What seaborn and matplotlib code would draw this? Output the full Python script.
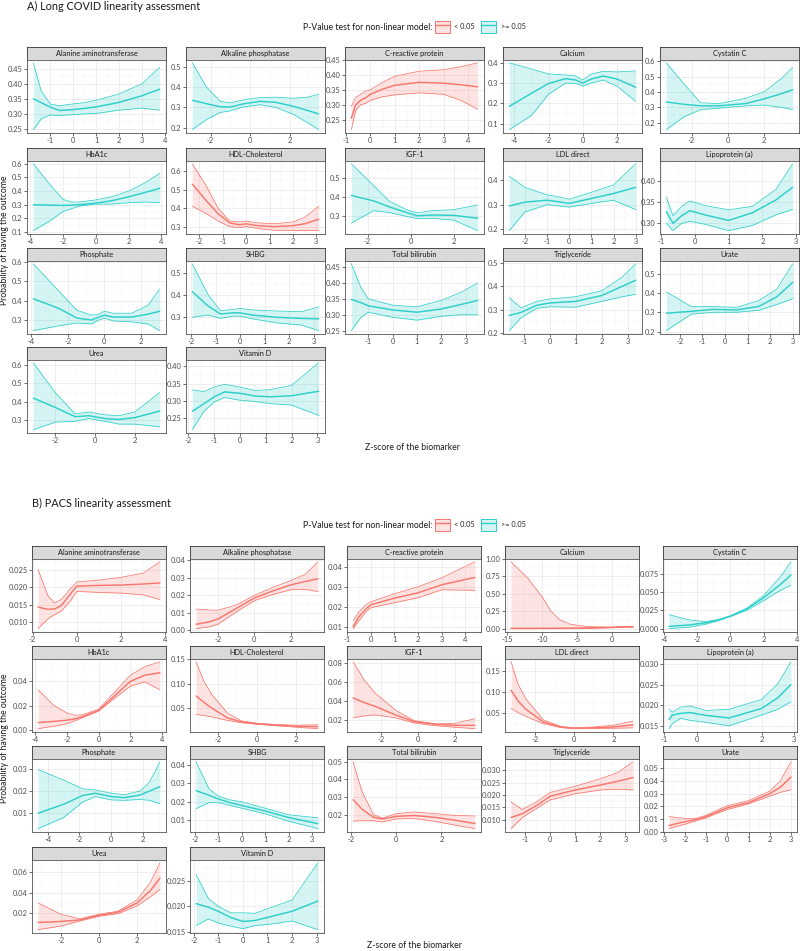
import matplotlib
matplotlib.use('Agg')
import matplotlib.pyplot as plt
import seaborn as sns
from matplotlib.colors import to_rgba
from matplotlib.ticker import AutoMinorLocator
from matplotlib.patches import Patch
from matplotlib.lines import Line2D
from matplotlib.legend_handler import HandlerTuple

# ---------------- A) Long COVID ----------------
a_names = ['Alanine aminotransferase', 'Alkaline phosphatase', 'C-reactive protein', 'Calcium', 'Cystatin C',
           'HbA1c', 'HDL-Cholesterol', 'IGF-1', 'LDL direct', 'Lipoprotein (a)',
           'Phosphate', 'SHBG', 'Total bilirubin', 'Triglyceride', 'Urate',
           'Urea', 'Vitamin D']
a_sig = [False, False, True, False, False,
         False, True, False, False, False,
         False, False, False, False, False,
         False, False]
a_x = [
    [-1.75, -1.4, -1.0, -0.6, 0.0, 0.5, 1.0, 2.0, 3.0, 3.78],
    [-2.92, -2.2, -1.5, -1.0, -0.3, 0.5, 1.3, 2.2, 2.9, 3.47],
    [-0.78, -0.6, -0.4, -0.2, 0.0, 0.5, 1.0, 2.0, 3.0, 3.7, 4.4],
    [-4.3, -3.0, -2.0, -1.0, -0.4, 0.0, 0.5, 1.2, 2.0, 3.1],
    [-3.4, -2.4, -1.5, -0.5, 0.0, 1.0, 2.0, 3.0, 3.6],
    [-3.8, -2.8, -2.0, -1.5, -1.0, 0.0, 1.0, 2.0, 3.0, 3.9],
    [-2.3, -1.7, -1.2, -0.7, -0.3, 0.0, 0.5, 1.2, 2.0, 2.5, 3.1],
    [-2.75, -1.7, -1.0, -0.2, 0.3, 1.0, 2.0, 3.1],
    [-2.7, -2.0, -1.0, -0.5, 0.0, 1.0, 2.0, 3.0],
    [-0.85, -0.65, -0.4, -0.15, 0.3, 1.0, 1.7, 2.4, 2.9],
    [-3.9, -2.5, -1.5, -0.7, -0.3, 0.0, 0.5, 1.5, 2.4, 3.05],
    [-1.95, -1.3, -0.8, -0.3, 0.0, 0.5, 1.5, 2.5, 3.2],
    [-1.7, -1.3, -1.0, 0.0, 1.0, 2.0, 2.8, 3.5],
    [-1.55, -1.1, -0.5, 0.0, 1.0, 2.0, 2.8, 3.3],
    [-2.6, -1.5, -0.5, 0.5, 1.5, 2.3, 3.0],
    [-3.1, -2.0, -1.0, -0.3, 0.5, 1.2, 2.0, 3.25],
    [-1.85, -1.4, -1.0, -0.6, 0.0, 0.6, 1.2, 2.0, 3.05],
]
a_fit = [
    [0.350, 0.337, 0.322, 0.311, 0.314, 0.318, 0.323, 0.338, 0.360, 0.382],
    [0.335, 0.318, 0.303, 0.302, 0.318, 0.330, 0.325, 0.305, 0.285, 0.268],
    [0.255, 0.300, 0.315, 0.323, 0.335, 0.352, 0.365, 0.375, 0.372, 0.367, 0.360],
    [0.185, 0.250, 0.298, 0.322, 0.315, 0.300, 0.320, 0.335, 0.320, 0.280],
    [0.335, 0.320, 0.310, 0.310, 0.315, 0.325, 0.355, 0.390, 0.415],
    [0.300, 0.297, 0.295, 0.297, 0.300, 0.312, 0.330, 0.358, 0.390, 0.420],
    [0.530, 0.440, 0.370, 0.320, 0.310, 0.315, 0.305, 0.300, 0.305, 0.315, 0.340],
    [0.410, 0.380, 0.350, 0.320, 0.303, 0.307, 0.305, 0.290],
    [0.295, 0.310, 0.318, 0.312, 0.305, 0.325, 0.345, 0.370],
    [0.328, 0.300, 0.318, 0.330, 0.320, 0.307, 0.325, 0.355, 0.385],
    [0.410, 0.360, 0.310, 0.300, 0.315, 0.325, 0.315, 0.315, 0.330, 0.345],
    [0.415, 0.350, 0.315, 0.320, 0.320, 0.310, 0.300, 0.295, 0.293],
    [0.348, 0.338, 0.328, 0.315, 0.308, 0.318, 0.332, 0.345],
    [0.275, 0.288, 0.318, 0.328, 0.335, 0.360, 0.400, 0.425],
    [0.295, 0.305, 0.315, 0.312, 0.330, 0.380, 0.455],
    [0.420, 0.370, 0.320, 0.325, 0.310, 0.305, 0.315, 0.350],
    [0.270, 0.292, 0.312, 0.326, 0.322, 0.314, 0.312, 0.315, 0.328],
]
a_hi = [
    [0.470, 0.375, 0.332, 0.327, 0.333, 0.337, 0.345, 0.366, 0.400, 0.455],
    [0.520, 0.400, 0.330, 0.322, 0.338, 0.348, 0.350, 0.345, 0.350, 0.365],
    [0.295, 0.325, 0.335, 0.345, 0.350, 0.375, 0.395, 0.412, 0.417, 0.427, 0.440],
    [0.400, 0.370, 0.345, 0.340, 0.335, 0.315, 0.345, 0.358, 0.355, 0.360],
    [0.590, 0.450, 0.330, 0.325, 0.335, 0.360, 0.400, 0.490, 0.560],
    [0.600, 0.450, 0.340, 0.320, 0.320, 0.335, 0.360, 0.400, 0.460, 0.530],
    [0.640, 0.520, 0.400, 0.330, 0.325, 0.330, 0.320, 0.315, 0.325, 0.350, 0.410],
    [0.575, 0.460, 0.380, 0.335, 0.318, 0.330, 0.335, 0.360],
    [0.415, 0.370, 0.340, 0.332, 0.322, 0.350, 0.380, 0.465],
    [0.362, 0.318, 0.340, 0.353, 0.342, 0.332, 0.340, 0.380, 0.440],
    [0.590, 0.450, 0.350, 0.325, 0.330, 0.345, 0.335, 0.335, 0.375, 0.460],
    [0.540, 0.400, 0.330, 0.335, 0.340, 0.333, 0.328, 0.325, 0.347],
    [0.460, 0.385, 0.350, 0.330, 0.325, 0.345, 0.370, 0.400],
    [0.350, 0.307, 0.335, 0.345, 0.355, 0.380, 0.440, 0.495],
    [0.405, 0.330, 0.330, 0.325, 0.360, 0.420, 0.550],
    [0.610, 0.450, 0.335, 0.345, 0.330, 0.325, 0.345, 0.450],
    [0.332, 0.327, 0.340, 0.348, 0.340, 0.330, 0.333, 0.345, 0.410],
]
a_lo = [
    [0.247, 0.283, 0.296, 0.294, 0.297, 0.300, 0.301, 0.312, 0.319, 0.312],
    [0.190, 0.240, 0.275, 0.283, 0.303, 0.313, 0.300, 0.265, 0.225, 0.190],
    [0.217, 0.280, 0.300, 0.305, 0.315, 0.327, 0.333, 0.340, 0.335, 0.315, 0.285],
    [0.070, 0.140, 0.245, 0.300, 0.298, 0.285, 0.300, 0.315, 0.285, 0.210],
    [0.155, 0.240, 0.285, 0.295, 0.300, 0.310, 0.315, 0.300, 0.285],
    [0.110, 0.180, 0.250, 0.270, 0.290, 0.305, 0.305, 0.315, 0.320, 0.315],
    [0.410, 0.370, 0.330, 0.300, 0.295, 0.300, 0.290, 0.280, 0.280, 0.278, 0.280],
    [0.265, 0.330, 0.320, 0.300, 0.288, 0.290, 0.280, 0.225],
    [0.195, 0.270, 0.300, 0.295, 0.290, 0.305, 0.318, 0.280],
    [0.300, 0.283, 0.300, 0.305, 0.298, 0.283, 0.295, 0.320, 0.333],
    [0.245, 0.270, 0.285, 0.280, 0.300, 0.310, 0.295, 0.290, 0.280, 0.245],
    [0.300, 0.310, 0.295, 0.305, 0.305, 0.293, 0.275, 0.265, 0.240],
    [0.250, 0.292, 0.308, 0.292, 0.283, 0.295, 0.300, 0.300],
    [0.210, 0.265, 0.305, 0.312, 0.310, 0.335, 0.355, 0.365],
    [0.205, 0.290, 0.300, 0.300, 0.310, 0.340, 0.370],
    [0.250, 0.290, 0.295, 0.310, 0.295, 0.280, 0.280, 0.265],
    [0.217, 0.270, 0.297, 0.310, 0.302, 0.298, 0.292, 0.288, 0.258],
]
a_xticks = [[-1, 0, 1, 2, 3, 4], [-2, 0, 2], [-1, 0, 1, 2, 3, 4], [-4, -2, 0, 2], [-2, 0, 2],
            [-4, -2, 0, 2, 4], [-2, -1, 0, 1, 2, 3], [-2, 0, 2], [-2, -1, 0, 1, 2, 3], [-1, 0, 1, 2, 3],
            [-4, -2, 0, 2], [-2, -1, 0, 1, 2, 3], [-1, 0, 1, 2, 3], [-1, 0, 1, 2, 3], [-2, -1, 0, 1, 2, 3],
            [-2, 0, 2], [-2, -1, 0, 1, 2, 3]]
a_yticks = [[0.25, 0.30, 0.35, 0.40, 0.45], [0.2, 0.3, 0.4, 0.5], [0.25, 0.30, 0.35, 0.40, 0.45],
            [0.1, 0.2, 0.3, 0.4], [0.2, 0.3, 0.4, 0.5, 0.6],
            [0.1, 0.2, 0.3, 0.4, 0.5, 0.6], [0.3, 0.4, 0.5, 0.6], [0.3, 0.4, 0.5], [0.2, 0.3, 0.4],
            [0.30, 0.35, 0.40],
            [0.3, 0.4, 0.5, 0.6], [0.3, 0.4, 0.5], [0.25, 0.30, 0.35, 0.40, 0.45], [0.2, 0.3, 0.4, 0.5],
            [0.2, 0.3, 0.4, 0.5],
            [0.3, 0.4, 0.5, 0.6], [0.25, 0.30, 0.35, 0.40]]

# ---------------- B) PACS ----------------
b_names = a_names
b_sig = [True, True, True, True, False,
         True, True, True, True, False,
         False, False, True, True, True,
         True, False]
b_x = [
    [-1.75, -1.3, -1.0, -0.7, -0.3, 0.0, 1.0, 2.0, 3.0, 3.75],
    [-3.2, -2.5, -2.0, -1.0, 0.0, 1.0, 2.0, 2.8, 3.5],
    [-0.75, -0.5, -0.2, 0.0, 1.0, 2.0, 3.0, 4.4],
    [-14.4, -12.0, -10.0, -8.7, -7.5, -6.0, -4.0, -2.0, 0.0, 3.0],
    [-3.7, -2.5, -1.5, -0.7, 0.0, 1.0, 2.0, 3.0, 3.65],
    [-3.8, -2.8, -2.0, -1.5, -1.0, 0.0, 1.0, 2.0, 2.9, 3.85],
    [-3.1, -2.7, -2.3, -1.5, -0.8, 0.0, 1.0, 2.0, 3.1],
    [-3.5, -2.9, -2.3, -1.2, -0.2, 1.0, 2.0, 3.1],
    [-3.25, -2.9, -2.5, -1.6, -0.7, 0.0, 1.0, 2.0, 3.0],
    [-0.85, -0.75, -0.5, -0.2, 0.3, 1.0, 2.0, 2.5, 2.9],
    [-4.6, -3.0, -1.8, -1.0, 0.0, 0.8, 1.8, 2.4, 3.05],
    [-1.95, -1.4, -1.0, -0.5, 0.0, 1.0, 2.0, 3.25],
    [-1.9, -1.5, -1.0, -0.6, 0.0, 0.8, 1.8, 2.6, 3.48],
    [-1.55, -1.1, -0.5, 0.0, 1.0, 2.0, 2.7, 3.3],
    [-2.75, -2.0, -1.5, -1.0, -0.5, 0.0, 1.0, 2.0, 2.5, 3.0],
    [-3.2, -2.0, -1.0, 0.0, 1.0, 2.0, 2.7, 3.2],
    [-1.9, -1.4, -1.0, -0.5, 0.0, 0.5, 1.0, 2.0, 3.05],
]
b_fit = [
    [0.0143, 0.0137, 0.0138, 0.0148, 0.0180, 0.0203, 0.0205, 0.0206, 0.0209, 0.0212],
    [0.0035, 0.0048, 0.0065, 0.0125, 0.0185, 0.0225, 0.0260, 0.0280, 0.0295],
    [0.0100, 0.0150, 0.0190, 0.0210, 0.0243, 0.0270, 0.0310, 0.0347],
    [0.004, 0.004, 0.005, 0.005, 0.006, 0.008, 0.010, 0.014, 0.018, 0.028],
    [0.0030, 0.0050, 0.0080, 0.0120, 0.0170, 0.0270, 0.0420, 0.0600, 0.0730],
    [0.0060, 0.0070, 0.0080, 0.0090, 0.0110, 0.0160, 0.0280, 0.0400, 0.0450, 0.0470],
    [0.075, 0.062, 0.050, 0.030, 0.022, 0.018, 0.015, 0.013, 0.012],
    [0.043, 0.038, 0.034, 0.025, 0.018, 0.015, 0.014, 0.014],
    [0.105, 0.080, 0.060, 0.030, 0.018, 0.015, 0.016, 0.018, 0.023],
    [0.0165, 0.0176, 0.0180, 0.0182, 0.0175, 0.0169, 0.0192, 0.0218, 0.0250],
    [0.0100, 0.0140, 0.0180, 0.0190, 0.0175, 0.0170, 0.0182, 0.0200, 0.0220],
    [0.0260, 0.0235, 0.0215, 0.0195, 0.0180, 0.0150, 0.0115, 0.0082],
    [0.0285, 0.0230, 0.0185, 0.0175, 0.0190, 0.0195, 0.0183, 0.0168, 0.0150],
    [0.0110, 0.0125, 0.0160, 0.0195, 0.0220, 0.0240, 0.0255, 0.0270],
    [0.0050, 0.0080, 0.0095, 0.0120, 0.0155, 0.0190, 0.0230, 0.0300, 0.0350, 0.0430],
    [0.0110, 0.0120, 0.0135, 0.0180, 0.0210, 0.0300, 0.0420, 0.0540],
    [0.0205, 0.0198, 0.0190, 0.0178, 0.0170, 0.0172, 0.0178, 0.0190, 0.0210],
]
b_hi = [
    [0.0250, 0.0175, 0.0155, 0.0165, 0.0195, 0.0215, 0.0220, 0.0228, 0.0240, 0.0272],
    [0.0122, 0.0117, 0.0115, 0.0145, 0.0200, 0.0245, 0.0285, 0.0320, 0.0392],
    [0.0130, 0.0175, 0.0210, 0.0225, 0.0265, 0.0300, 0.0345, 0.0425],
    [0.955, 0.720, 0.460, 0.250, 0.130, 0.065, 0.035, 0.025, 0.022, 0.035],
    [0.0190, 0.0120, 0.0095, 0.0125, 0.0175, 0.0280, 0.0450, 0.0700, 0.0910],
    [0.0330, 0.0200, 0.0140, 0.0120, 0.0125, 0.0170, 0.0310, 0.0450, 0.0520, 0.0560],
    [0.145, 0.105, 0.078, 0.040, 0.024, 0.019, 0.0165, 0.015, 0.016],
    [0.081, 0.062, 0.048, 0.030, 0.019, 0.0155, 0.016, 0.021],
    [0.172, 0.120, 0.085, 0.035, 0.019, 0.016, 0.018, 0.022, 0.032],
    [0.0190, 0.0183, 0.0195, 0.0198, 0.0187, 0.0190, 0.0214, 0.0252, 0.0305],
    [0.0297, 0.0250, 0.0210, 0.0205, 0.0190, 0.0183, 0.0200, 0.0240, 0.0332],
    [0.0415, 0.0270, 0.0230, 0.0210, 0.0200, 0.0165, 0.0130, 0.0113],
    [0.0500, 0.0330, 0.0200, 0.0180, 0.0205, 0.0215, 0.0205, 0.0195, 0.0192],
    [0.0172, 0.0142, 0.0175, 0.0210, 0.0235, 0.0265, 0.0290, 0.0333],
    [0.0120, 0.0105, 0.0105, 0.0130, 0.0170, 0.0205, 0.0245, 0.0320, 0.0400, 0.0550],
    [0.0300, 0.0190, 0.0145, 0.0190, 0.0220, 0.0330, 0.0500, 0.0690],
    [0.0262, 0.0215, 0.0200, 0.0187, 0.0187, 0.0186, 0.0195, 0.0212, 0.0285],
]
b_lo = [
    [0.0082, 0.0110, 0.0122, 0.0132, 0.0160, 0.0188, 0.0185, 0.0183, 0.0178, 0.0165],
    [0.0010, 0.0020, 0.0035, 0.0105, 0.0170, 0.0205, 0.0232, 0.0235, 0.0222],
    [0.0090, 0.0130, 0.0175, 0.0195, 0.0220, 0.0245, 0.0285, 0.0282],
    [0.000, 0.000, 0.000, 0.000, 0.000, 0.001, 0.003, 0.008, 0.014, 0.022],
    [0.0000, 0.0020, 0.0060, 0.0110, 0.0165, 0.0250, 0.0380, 0.0520, 0.0590],
    [0.0010, 0.0030, 0.0050, 0.0075, 0.0100, 0.0155, 0.0260, 0.0360, 0.0395, 0.0330],
    [0.037, 0.035, 0.032, 0.025, 0.020, 0.017, 0.014, 0.011, 0.008],
    [0.022, 0.024, 0.025, 0.022, 0.0165, 0.0135, 0.012, 0.0105],
    [0.062, 0.052, 0.043, 0.026, 0.0165, 0.014, 0.0145, 0.015, 0.016],
    [0.0143, 0.0155, 0.0168, 0.0163, 0.0158, 0.0150, 0.0176, 0.0190, 0.0208],
    [0.0030, 0.0080, 0.0150, 0.0175, 0.0160, 0.0158, 0.0162, 0.0158, 0.0143],
    [0.0163, 0.0195, 0.0195, 0.0180, 0.0165, 0.0135, 0.0095, 0.0055],
    [0.0163, 0.0165, 0.0165, 0.0158, 0.0175, 0.0178, 0.0160, 0.0140, 0.0120],
    [0.0065, 0.0110, 0.0148, 0.0180, 0.0205, 0.0220, 0.0223, 0.0220],
    [0.0025, 0.0060, 0.0085, 0.0110, 0.0145, 0.0175, 0.0220, 0.0280, 0.0310, 0.0330],
    [0.0040, 0.0075, 0.0125, 0.0170, 0.0195, 0.0270, 0.0360, 0.0430],
    [0.0162, 0.0175, 0.0167, 0.0161, 0.0156, 0.0162, 0.0164, 0.0171, 0.0154],
]
b_xticks = [[-2, 0, 2, 4], [-2, 0, 2], [-1, 0, 1, 2, 3, 4], [-15, -10, -5, 0], [-4, -2, 0, 2, 4],
            [-4, -2, 0, 2, 4], [-2, 0, 2], [-2, 0, 2], [-2, 0, 2], [-1, 0, 1, 2, 3],
            [-4, -2, 0, 2], [-2, -1, 0, 1, 2, 3], [-2, 0, 2], [-1, 0, 1, 2, 3], [-3, -2, -1, 0, 1, 2, 3],
            [-2, 0, 2], [-2, -1, 0, 1, 2, 3]]
b_yticks = [[0.010, 0.015, 0.020, 0.025], [0.0, 0.01, 0.02, 0.03, 0.04], [0.01, 0.02, 0.03, 0.04],
            [0.0, 0.25, 0.5, 0.75, 1.0], [0.0, 0.025, 0.05, 0.075],
            [0.0, 0.02, 0.04], [0.05, 0.10, 0.15], [0.02, 0.04, 0.06, 0.08], [0.05, 0.10, 0.15],
            [0.015, 0.020, 0.025, 0.030],
            [0.01, 0.02, 0.03], [0.01, 0.02, 0.03, 0.04], [0.01, 0.02, 0.03, 0.04, 0.05],
            [0.010, 0.015, 0.020, 0.025, 0.030], [0.0, 0.01, 0.02, 0.03, 0.04, 0.05],
            [0.02, 0.04, 0.06], [0.015, 0.020, 0.025]]

RED = '#F8766D'
TEAL = '#2DCFC9'
W, H = 800, 951
STRIP_H, PANEL_H = 12.5, 73.5

sns.set_theme(style='whitegrid')
plt.rcParams['font.family'] = ['Lato', 'DejaVu Sans']
plt.rcParams['axes.unicode_minus'] = False

TICK_FS = 5.4
STRIP_FS = 5.3


def box(left, top, w, h):
    return [left / W, 1 - (top + h) / H, w / W, h / H]


def decimals(ticks):
    d = 0
    for t in ticks:
        s = f'{t:g}'
        if '.' in s:
            d = max(d, len(s.split('.')[1]))
    return d


def draw_panel(fig, left, top, width, name, sig, x, fit, lo, hi, xticks, yticks):
    col = RED if sig else TEAL
    strip = fig.add_axes(box(left, top, width, STRIP_H))
    strip.set_facecolor('#D9D9D9')
    strip.set_xticks([])
    strip.set_yticks([])
    strip.grid(False)
    for s in strip.spines.values():
        s.set_color('#333333')
        s.set_linewidth(0.6)
    strip.text(0.5, 0.45, name, ha='center', va='center', fontsize=STRIP_FS,
               color='#1A1A1A', transform=strip.transAxes)

    ax = fig.add_axes(box(left, top + STRIP_H, width, PANEL_H))
    ax.fill_between(x, lo, hi, color=col, alpha=0.2, lw=0)
    sns.lineplot(x=x, y=lo, ax=ax, color=col, lw=0.55, errorbar=None)
    sns.lineplot(x=x, y=hi, ax=ax, color=col, lw=0.55, errorbar=None)
    sns.lineplot(x=x, y=fit, ax=ax, color=col, lw=1.05, errorbar=None)
    ax.set_xlabel('')
    ax.set_ylabel('')

    xl, yl = ax.get_xlim(), ax.get_ylim()
    xt = [t for t in xticks if xl[0] <= t <= xl[1]]
    yt = [t for t in yticks if yl[0] <= t <= yl[1]]
    nd = decimals(yt)
    ax.set_xticks(xt)
    ax.set_xticklabels([f'{int(t)}' for t in xt])
    ax.set_yticks(yt)
    ax.set_yticklabels([f'{t:.{nd}f}' for t in yt])
    ax.set_xlim(xl)
    ax.set_ylim(yl)
    ax.xaxis.set_minor_locator(AutoMinorLocator(2))
    ax.yaxis.set_minor_locator(AutoMinorLocator(2))
    ax.grid(which='major', color='#EBEBEB', lw=0.6)
    ax.grid(which='minor', color='#F3F3F3', lw=0.35)
    ax.set_axisbelow(True)
    ax.tick_params(which='major', bottom=True, left=True, length=2, width=0.5, color='#333333',
                   labelsize=TICK_FS, labelcolor='#4D4D4D', pad=1.2)
    ax.tick_params(which='minor', length=0)
    for s in ax.spines.values():
        s.set_color('#555555')
        s.set_linewidth(0.6)


def draw_section(fig, tops, lefts, width, names, sig, xs, fits, los, his, xticks, yticks):
    for i, name in enumerate(names):
        r, c = divmod(i, 5)
        draw_panel(fig, lefts[c], tops[r], width, name, sig[i], xs[i], fits[i], los[i], his[i],
                   xticks[i], yticks[i])


def add_legend(fig, y):
    fig.text(432 / W, 1 - y / H, 'P-Value test for non-linear model:', ha='right', va='center',
             fontsize=6.2, color='#1A1A1A')
    handles = [(Patch(facecolor=to_rgba(c, 0.2), edgecolor=c, lw=0.7),
                Line2D([], [], color=c, lw=1.0)) for c in (RED, TEAL)]
    fig.legend(handles, ['< 0.05', '>= 0.05'], handler_map={tuple: HandlerTuple(ndivide=1, pad=0)},
               loc='center left', bbox_to_anchor=(435 / W, 1 - y / H), ncol=2, frameon=False,
               fontsize=5.3, handlelength=2.0, handleheight=2.0, handletextpad=0.6,
               columnspacing=0.9, borderaxespad=0, borderpad=0)


fig = plt.figure(figsize=(8, 9.51), dpi=100)
fig.patch.set_facecolor('white')

# A) Long COVID
fig.text(27 / W, 1 - 6 / H, 'A) Long COVID linearity assessment', ha='left', va='center',
         fontsize=7.8, color='#1A1A1A')
add_legend(fig, 27)
draw_section(fig, [47, 148, 248, 347], [27, 186, 345, 503, 660], 139,
             a_names, a_sig, a_x, a_fit, a_lo, a_hi, a_xticks, a_yticks)
fig.text(5 / W, 1 - 240 / H, 'Probability of having the outcome', rotation=90, ha='center',
         va='center', fontsize=6.2, color='#1A1A1A')
fig.text(412 / W, 1 - 448 / H, 'Z-score of the biomarker', ha='center', va='center',
         fontsize=6.2, color='#1A1A1A')

# B) PACS
fig.text(32 / W, 1 - 503 / H, 'B) PACS linearity assessment', ha='left', va='center',
         fontsize=7.8, color='#1A1A1A')
add_legend(fig, 525)
draw_section(fig, [546, 646, 746, 847], [32, 190, 347, 505, 663], 134,
             b_names, b_sig, b_x, b_fit, b_lo, b_hi, b_xticks, b_yticks)
fig.text(5 / W, 1 - 738 / H, 'Probability of having the outcome', rotation=90, ha='center',
         va='center', fontsize=6.2, color='#1A1A1A')
fig.text(414 / W, 1 - 946 / H, 'Z-score of the biomarker', ha='center', va='center',
         fontsize=6.2, color='#1A1A1A')

fig.savefig('out.png', dpi=100, facecolor='white')
